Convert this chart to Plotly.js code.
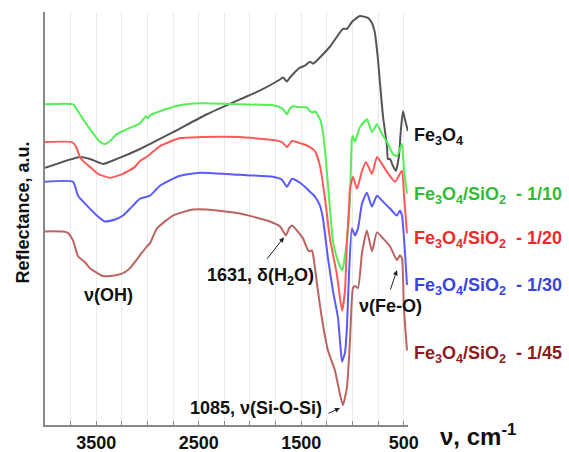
<!DOCTYPE html>
<html>
<head>
<meta charset="utf-8">
<script src="https://cdn.plot.ly/plotly-3.0.1.min.js"></script>
<style>html,body{margin:0;padding:0;background:#fff;}#chart{width:569px;height:452px;}</style>
</head>
<body>
<div id="chart"></div>
<script>
// wavenumber (cm-1) and reflectance (a.u.) for each spectrum
var fe3o4_wn = [4000,3659,3561,3434,3298,3073,2751,2420,2098,1900,1707,1678,1639,1610,1512,1463,1415,1385,1220,1093,1054,1005,927,849,810,781,751,732,702,663,654,634,605,576,546,527,507,488,459];
var fe3o4_r  = [261,272,270,265,270,280,297,315,330,339,350,352,348,352,362,364,368,366,383,401,401,408,414,412,407,397,370,347,313,283,270,270,263,258,273,300,318,310,298];

var s10_wn = [4000,3727,3678,3629,3561,3463,3415,3366,3298,3200,3073,3015,2995,2976,2878,2683,2488,2098,1776,1707,1668,1639,1610,1580,1512,1444,1415,1385,1366,1317,1288,1249,1220,1190,1141,1102,1093,1054,1024,1005,995,976,927,859,810,761,712,663,605,566,517,498,468];
var s10_r  = [325,325,318,310,300,287,285,288,295,300,306,313,311,314,318,324,326,325,324,322,319,315,321,323,322,322,318,317,318,310,297,257,220,187,167,158,160,187,230,290,293,287,302,310,297,305,295,287,275,273,285,260,235];

var s20_wn = [4000,3737,3707,3688,3659,3629,3561,3483,3366,3239,3122,3073,2995,2878,2683,2488,2098,1776,1688,1639,1590,1483,1415,1366,1317,1268,1220,1151,1102,1073,1054,1034,1024,995,956,907,868,810,761,712,663,585,517,498,468];
var s20_r  = [287,287,284,280,272,268,262,255,251,255,262,268,273,283,291,292,292,289,287,282,288,285,282,278,263,230,190,153,117,137,187,220,240,252,240,258,267,255,272,265,257,247,258,235,195];

var s30_wn = [4000,3727,3678,3590,3483,3415,3317,3239,3151,3073,2976,2878,2683,2488,2098,1776,1688,1639,1590,1512,1444,1415,1366,1317,1288,1239,1190,1141,1122,1102,1073,1054,1034,1005,976,946,907,859,810,761,702,634,566,537,517,488,468];
var s30_r  = [247,247,233,223,212,207,209,213,222,230,233,243,253,256,254,252,249,242,250,246,240,237,232,223,210,170,137,110,87,66,75,100,153,200,193,200,225,236,222,233,227,220,213,218,213,177,143];

var s45_wn = [4000,3785,3727,3678,3610,3561,3434,3298,3220,3171,3073,3005,2976,2907,2751,2556,2420,2098,1834,1707,1649,1619,1590,1483,1434,1415,1395,1376,1337,1288,1239,1171,1122,1093,1054,1024,995,976,946,907,859,810,761,702,634,566,537,517,498,468];
var s45_r  = [197,196,188,172,166,160,152,153,156,160,173,182,185,200,213,219,219,215,208,202,193,200,203,190,178,177,178,168,137,103,77,57,33,22,40,87,140,142,140,175,198,177,196,190,182,168,173,170,120,77];

var seriesNames = ["Fe3O4", "Fe3O4/SiO2 - 1/10", "Fe3O4/SiO2 - 1/20", "Fe3O4/SiO2 - 1/30", "Fe3O4/SiO2 - 1/45"];
var labelTexts = ["Fe<sub>3</sub>O<sub>4</sub>",
  "Fe<sub>3</sub>O<sub>4</sub>/SiO<sub>2</sub>  - 1/10",
  "Fe<sub>3</sub>O<sub>4</sub>/SiO<sub>2</sub>  - 1/20",
  "Fe<sub>3</sub>O<sub>4</sub>/SiO<sub>2</sub>  - 1/30",
  "Fe<sub>3</sub>O<sub>4</sub>/SiO<sub>2</sub>  - 1/45"];
var tickVals = [3500, 2500, 1500, 500];
var tickText = ["3500", "2500", "1500", "500"];

var lineColors = ["#555555","#55ee55","#ff5a5a","#5a5aff","#bb6464"];
var labelColors = ["#111111","#33bb33","#ee2a2a","#3a44dd","#8e1c1c"];
var labelY = [0.698,0.555,0.449,0.335,0.170];

var xs = [fe3o4_wn, s10_wn, s20_wn, s30_wn, s45_wn];
var ys = [fe3o4_r, s10_r, s20_r, s30_r, s45_r];
var FONT = "Arial, 'Liberation Sans', sans-serif";

var traces = [];
for (var i = 0; i < xs.length; i++) {
  traces.push({x: xs[i], y: ys[i], type: "scatter", mode: "lines", name: seriesNames[i],
    line: {color: lineColors[i], width: 2, shape: "spline", smoothing: 0.5}, showlegend: false});
}

var ann = [];
for (var j = 0; j < labelTexts.length; j++) {
  ann.push({xref: "paper", yref: "paper", x: 1.011, y: labelY[j], xanchor: "left", yanchor: "middle",
    text: "<b>" + labelTexts[j] + "</b>", showarrow: false, font: {family: FONT, size: 18, color: labelColors[j]}});
}
var af = {family: FONT, size: 18, color: "#111"};
ann.push({x: 3385, y: 133, xref: "x", yref: "y", text: "<b>\u03bd(OH)</b>", showarrow: false, font: af});
ann.push({x: 1902, y: 152, xref: "x", yref: "y", text: "<b>1631, \u03b4(H<sub>2</sub>O)</b>", showarrow: false, font: af});
ann.push({x: 1668, y: 191, ax: 1844, ay: 168, xref: "x", yref: "y", axref: "x", ayref: "y", text: "", showarrow: true, arrowhead: 2, arrowsize: 1, arrowwidth: 1, arrowcolor: "#222"});
ann.push({x: 1941, y: 19, xref: "x", yref: "y", text: "<b>1085, \u03bd(Si-O-Si)</b>", showarrow: false, font: af});
ann.push({x: 1122, y: 19, ax: 1249, ay: 13, xref: "x", yref: "y", axref: "x", ayref: "y", text: "", showarrow: true, arrowhead: 2, arrowsize: 1, arrowwidth: 1, arrowcolor: "#222"});
ann.push({x: 624, y: 122, xref: "x", yref: "y", text: "<b>\u03bd(Fe-O)</b>", showarrow: false, font: af});
ann.push({x: 566, y: 158, ax: 634, ay: 137, xref: "x", yref: "y", axref: "x", ayref: "y", text: "", showarrow: true, arrowhead: 2, arrowsize: 1, arrowwidth: 1, arrowcolor: "#222"});
ann.push({xref: "paper", yref: "paper", x: 1.083, y: -0.024, xanchor: "left", yanchor: "middle",
  text: "<b>\u03bd, cm<sup>-1</sup></b>", showarrow: false, font: {family: FONT, size: 24, color: "#111"}});
ann.push({xref: "paper", yref: "paper", x: -0.061, y: 0.514, xanchor: "center", yanchor: "middle", textangle: -90,
  text: "<b>Reflectance, a.u.</b>", showarrow: false, font: {family: FONT, size: 18, color: "#111"}});

var layout = {
  width: 569, height: 452,
  margin: {l: 45, r: 161, t: 12, b: 27},
  paper_bgcolor: "#fff", plot_bgcolor: "#fff",
  showlegend: false,
  xaxis: {range: [4000, 458], tickmode: "array", tickvals: tickVals, ticktext: tickText,
    showgrid: true, gridcolor: "#ebebeb", gridwidth: 1, zeroline: false,
    showline: true, linecolor: "#888", linewidth: 2, ticks: "inside", ticklen: 4, tickcolor: "#888",
    minor: {tickmode: "linear", tick0: 500, dtick: 250, ticks: "inside", ticklen: 4, tickcolor: "#888",
      showgrid: true, gridcolor: "#ebebeb", gridwidth: 1},
    tickfont: {family: FONT, size: 18, color: "#111", weight: "bold"}},
  yaxis: {range: [2, 418], showgrid: false, zeroline: false, showticklabels: false, ticks: "",
    showline: true, linecolor: "#888", linewidth: 2},
  annotations: ann
};
Plotly.newPlot("chart", traces, layout, {displayModeBar: false, staticPlot: true});
</script>
</body>
</html>
